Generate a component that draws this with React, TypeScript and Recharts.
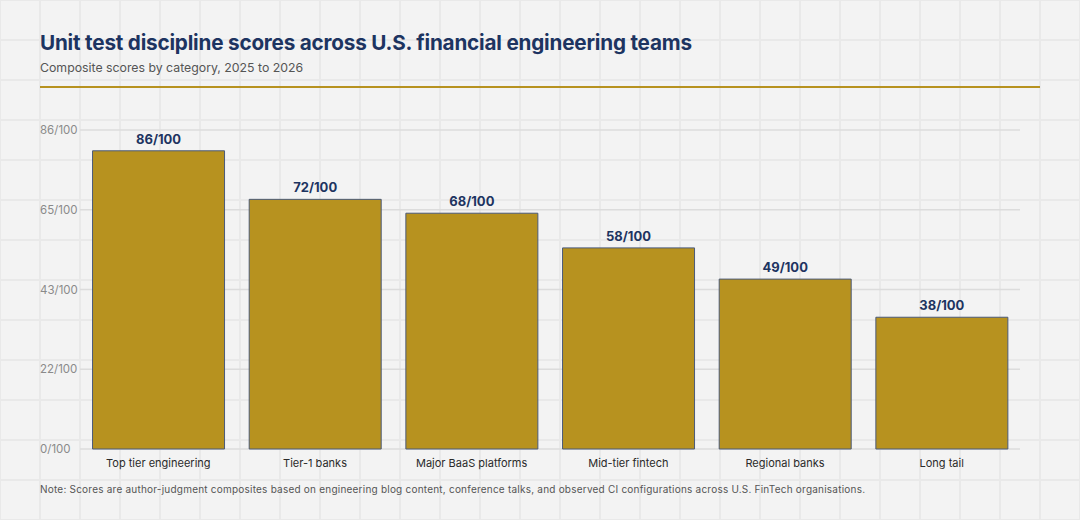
import React from 'react'
import { Bar, BarChart, CartesianGrid, LabelList, XAxis, YAxis } from 'recharts'

const categories = [
  'Top tier engineering',
  'Tier-1 banks',
  'Major BaaS platforms',
  'Mid-tier fintech',
  'Regional banks',
  'Long tail',
]
const scores = [86, 72, 68, 58, 49, 38]
const yTickLabels = ['0/100', '22/100', '43/100', '65/100', '86/100']

const Y_MAX = 92
const yTicks = yTickLabels.map((_, i) => (Y_MAX * i) / (yTickLabels.length - 1))

const NAVY = '#1d3461'
const GOLD = '#b7921f'
const FONT = 'Inter, "Noto Sans", sans-serif'

const chartData = categories.map((name, i) => ({ name, score: scores[i] }))

const YTick = (props: any) => {
  const { y, index } = props
  return (
    <text x={0} y={y} dy={4} fill="#8a8a8a" fontSize={11.5} fontFamily={FONT} textAnchor="start">
      {yTickLabels[index]}
    </text>
  )
}

const App = () => {
  return (
    <div
      style={{
        position: 'absolute',
        left: 0,
        top: 0,
        width: 1080,
        height: 520,
        backgroundColor: '#f3f3f3',
        backgroundImage:
          'linear-gradient(to right, #e9e9e9 2px, transparent 2px), linear-gradient(to bottom, #e9e9e9 2px, transparent 2px)',
        backgroundSize: '40px 40px',
        backgroundPosition: '-1px -1px',
        fontFamily: FONT,
        overflow: 'hidden',
      }}
    >
      <div
        style={{
          position: 'absolute',
          left: 40,
          top: 30,
          fontSize: 20.7,
          fontWeight: 700,
          color: NAVY,
          letterSpacing: -0.2,
        }}
      >
        Unit test discipline scores across U.S. financial engineering teams
      </div>
      <div style={{ position: 'absolute', left: 40, top: 60, fontSize: 12.3, color: '#555' }}>
        Composite scores by category, 2025 to 2026
      </div>
      <div
        style={{ position: 'absolute', left: 40, top: 86, width: 1000, height: 2, background: GOLD }}
      />

      <div style={{ position: 'absolute', left: 40, top: 110 }}>
        <BarChart
          width={980}
          height={370}
          data={chartData}
          margin={{ top: 20, right: 0, bottom: 0, left: 0 }}
          barCategoryGap="8%"
        >
          <CartesianGrid vertical={false} stroke="#dcdcdc" strokeWidth={1.5} />
          <YAxis
            width={40}
            domain={[0, Y_MAX]}
            ticks={yTicks}
            axisLine={false}
            tickLine={false}
            tick={<YTick />}
            interval={0}
          />
          <XAxis
            dataKey="name"
            height={31}
            axisLine={false}
            tickLine={false}
            tickMargin={4}
            interval={0}
            tick={{ fill: '#2a2a2a', fontSize: 11, fontFamily: FONT }}
          />
          <Bar
            dataKey="score"
            fill={GOLD}
            stroke="#4b5a78"
            strokeWidth={1}
            isAnimationActive={false}
          >
            <LabelList
              dataKey="score"
              position="top"
              offset={7}
              formatter={(v: any) => `${v}/100`}
              style={{ fill: NAVY, fontSize: 13, fontWeight: 700, fontFamily: FONT }}
            />
          </Bar>
        </BarChart>
      </div>

      <div
        style={{
          position: 'absolute',
          left: 40,
          top: 483,
          fontSize: 10,
          letterSpacing: 0.22,
          color: '#555',
        }}
      >
        Note: Scores are author-judgment composites based on engineering blog content, conference
        talks, and observed CI configurations across U.S. FinTech organisations.
      </div>
    </div>
  )
}

export default App
